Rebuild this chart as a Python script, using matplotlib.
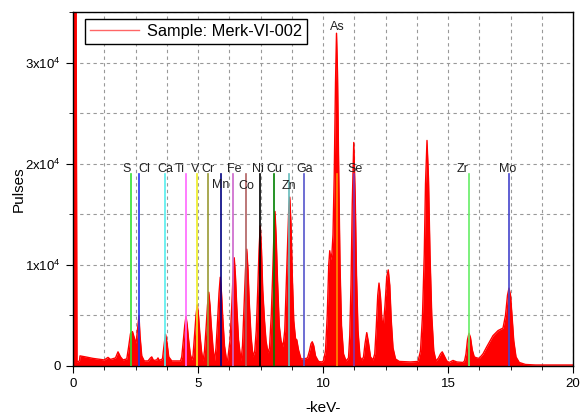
import matplotlib
matplotlib.use('Agg')
import matplotlib.pyplot as plt
from matplotlib.ticker import MultipleLocator, FuncFormatter

plt.rcParams['font.family'] = ['Liberation Sans', 'DejaVu Sans']
plt.rcParams['mathtext.fontset'] = 'custom'
plt.rcParams['mathtext.rm'] = 'Liberation Sans'

# spectrum (keV, pulses)
energy = [0.00, 0.00, 0.12, 0.16, 0.26, 0.28, 0.50, 0.80, 1.10, 1.25, 1.40, 1.50, 1.70, 1.80, 1.90, 2.00,
          2.15, 2.22, 2.30, 2.38, 2.45, 2.52, 2.60, 2.64, 2.68, 2.75, 2.85, 3.00, 3.10, 3.15, 3.22, 3.35,
          3.40, 3.45, 3.58, 3.63, 3.70, 3.76, 3.83, 3.95, 4.20,
          4.30, 4.35, 4.42, 4.47, 4.52, 4.57, 4.62, 4.69, 4.75,
          4.80, 4.87, 4.92, 4.97, 5.02, 5.07, 5.14, 5.20,
          5.26, 5.33, 5.38, 5.43, 5.48, 5.53, 5.60, 5.66,
          5.72, 5.79, 5.84, 5.89, 5.94, 5.99, 6.06, 6.14,
          6.18, 6.28, 6.35, 6.40, 6.45, 6.50, 6.55, 6.62, 6.72,
          6.78, 6.85, 6.90, 6.95, 7.00, 7.05, 7.12, 7.20,
          7.27, 7.33, 7.39, 7.44, 7.49, 7.54, 7.59, 7.66, 7.72, 7.80,
          7.86, 7.93, 7.98, 8.03, 8.08, 8.13, 8.18, 8.25, 8.32, 8.40,
          8.47, 8.53, 8.58, 8.63, 8.67, 8.72, 8.77, 8.83, 8.90, 8.95, 9.02, 9.12,
          9.25, 9.38, 9.46, 9.52, 9.57, 9.63, 9.70, 9.82, 9.95,
          10.02, 10.10, 10.17, 10.23, 10.27, 10.31, 10.36, 10.40, 10.45, 10.50, 10.54, 10.58, 10.63, 10.68,
          10.74, 10.82, 10.92,
          11.02, 11.07, 11.12, 11.17, 11.23, 11.29, 11.34, 11.40, 11.48, 11.56,
          11.62, 11.68, 11.75, 11.82, 11.90, 12.00,
          12.07, 12.13, 12.19, 12.24, 12.30, 12.36, 12.42, 12.48, 12.55, 12.61, 12.67, 12.73, 12.80, 12.90,
          13.05, 13.50, 13.80,
          13.90, 13.98, 14.05, 14.10, 14.16, 14.22, 14.28, 14.35, 14.43, 14.52,
          14.62, 14.70, 14.77, 14.85, 14.95, 15.05, 15.20, 15.35, 15.60,
          15.66, 15.72, 15.78, 15.84, 15.90, 15.97, 16.05, 16.15, 16.25,
          16.40, 16.55, 16.80, 17.00, 17.20, 17.30, 17.38, 17.44, 17.50, 17.56, 17.63, 17.72, 17.85,
          18.10, 18.50, 20.00]
pulses = [0, 40000, 40000, 400, 500, 1000, 900, 750, 650, 600, 850, 650, 800, 1400, 900, 600,
          700, 1800, 3200, 3400, 2800, 2200, 4000, 5000, 3000, 1000, 500, 500, 800, 900, 550, 600,
          800, 550, 700, 1800, 3150, 2300, 900, 500, 500,
          500, 900, 2700, 4000, 4900, 4000, 2700, 1200, 600,
          1000, 3300, 5000, 6050, 5000, 3300, 1500, 500,
          1500, 4000, 6000, 7300, 6000, 4000, 1800, 500,
          1800, 4800, 7200, 8780, 7200, 4800, 2000, 600,
          500, 2500, 5900, 8800, 10700, 8800, 5900, 2600, 500,
          2000, 6300, 9500, 11550, 9500, 6300, 3000, 900,
          1500, 3500, 7500, 11400, 13860, 11400, 7500, 4500, 2500, 1300,
          1800, 5000, 8500, 12500, 15280, 12500, 8500, 4000, 2500, 1900,
          3500, 8000, 12000, 15500, 16700, 14000, 9000, 4500, 2700, 2600, 1600, 700,
          700, 800, 1500, 2200, 2400, 2000, 1000, 450, 400,
          500, 1500, 5000, 10000, 11400, 10500, 11200, 13000, 19000, 28000, 32900, 29000, 19000, 10000,
          4000, 1200, 500,
          800, 3000, 8000, 16000, 22100, 16500, 9000, 3500, 900, 600,
          900, 2200, 3300, 2300, 900, 600,
          1200, 3800, 7000, 8200, 6800, 4500, 4200, 6000, 8800, 9500, 8000, 4500, 1800, 700,
          450, 400, 450,
          1500, 5000, 11000, 18000, 22300, 18500, 11000, 5000, 1500, 500,
          800, 1200, 1400, 1000, 500, 350, 550, 400, 350,
          500, 1200, 2600, 3240, 2800, 1600, 900, 800, 760,
          1200, 1900, 3000, 3500, 3750, 5000, 7000, 7700, 7000, 5000, 2500, 900, 350,
          150, 100, 100]

# element markers
elements = ['S', 'Cl', 'Ca', 'Ti', 'V', 'Cr', 'Mn', 'Fe', 'Co', 'Ni', 'Cu', 'Zn', 'Ga', 'As', 'Se', 'Zr', 'Mo']
elem_kev = [2.31, 2.62, 3.69, 4.51, 4.95, 5.41, 5.90, 6.40, 6.93, 7.48, 8.05, 8.64, 9.25, 10.54, 11.22, 15.85, 17.44]
elem_color = ['#33e033', '#2233ee', '#55eeee', '#ff66ff', '#eeee22', '#999933', '#000080', '#cc66cc',
              '#b06060', '#000000', '#008000', '#66bbbb', '#5555cc', '#ff8c00', '#8833aa', '#66ee66', '#4444cc']
# label placement (x nudge in keV, y of label bottom)
lab_dx = [-0.15, 0.25, 0.0, -0.25, -0.08, 0.0, 0.0, 0.05, 0.0, -0.1, 0.0, 0.0, 0.0, 0.05, 0.05, -0.25, -0.05]
lab_y = [18900, 18900, 18900, 18900, 18900, 18900, 17300, 18900, 17200, 18900, 18900, 17200, 18900,
         32900, 18900, 18900, 18900]

fig = plt.figure(figsize=(5.82, 4.18), dpi=100)
fig.set_facecolor('w')
ax = fig.add_axes([73/582, 1-366/418, 500/582, 354/418])

ax.fill_between(energy, pulses, 0, color='red', lw=0, zorder=2)
ax.plot(energy, pulses, color='red', lw=1, zorder=2, label='Sample: Merk-VI-002')

for el, e, c, dx, ly in zip(elements, elem_kev, elem_color, lab_dx, lab_y):
    ax.plot([e, e], [0, 19000], color=c, lw=1.2, zorder=3)
    ax.text(e + dx, ly, el, ha='center', va='bottom', fontsize=9, color='#222222', zorder=4)

ax.set_xlim(0, 20)
ax.set_ylim(0, 35000)
ax.xaxis.set_major_locator(MultipleLocator(5))
ax.xaxis.set_minor_locator(MultipleLocator(1.25))
ax.yaxis.set_major_locator(MultipleLocator(10000))
ax.yaxis.set_minor_locator(MultipleLocator(5000))
ax.yaxis.set_major_formatter(FuncFormatter(
    lambda v, p: '0' if v == 0 else '%dx10$^{\\mathregular{4}}$' % round(v / 10000)))
ax.tick_params(which='both', direction='out', labelsize=9.5, top=False, right=False)
ax.tick_params(which='major', length=5)
ax.tick_params(which='minor', length=3)
ax.grid(which='both', ls=(0, (3, 3)), color='#999999', lw=0.8)
ax.set_axisbelow(True)
for s in ax.spines.values():
    s.set_linewidth(1.0)

ax.set_xlabel('-keV-', fontsize=11, labelpad=8)
ax.set_ylabel('Pulses', fontsize=11, labelpad=0)

leg = ax.legend(loc='upper left', bbox_to_anchor=(12/500, 1-7/354), borderaxespad=0,
                fontsize=11.8, fancybox=False, framealpha=1, edgecolor='k',
                handlelength=3.0, borderpad=0.3, handletextpad=0.5)
leg.get_frame().set_linewidth(1.0)
leg.get_lines()[0].set_alpha(0.6)

fig.savefig('out.png', dpi=100)
